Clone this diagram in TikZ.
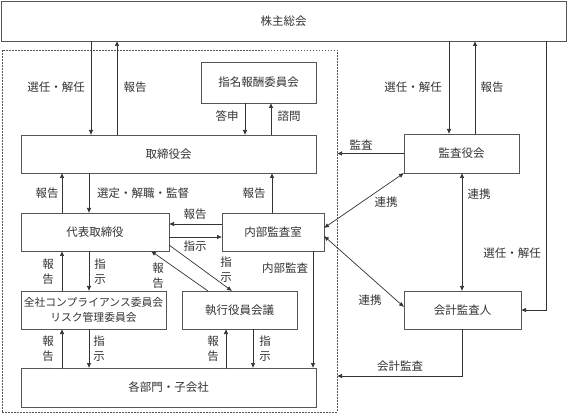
\documentclass[tikz,border=0pt]{standalone}
\usepackage{fontspec}
\newfontfamily\jp{Noto Sans CJK JP}
\usetikzlibrary{arrows.meta}
\definecolor{ln}{HTML}{333333}
\definecolor{bd}{HTML}{555555}
\begin{document}
\begin{tikzpicture}[x=1pt,y=-1pt,
  box/.style={draw=bd, line width=0.7pt, fill=white, inner sep=0pt, outer sep=0pt,
    font=\jp\fontsize{11.5}{15}\selectfont, text=ln, align=center},
  grpbox/.style={draw=bd, line width=0.8pt, dash pattern=on 1.5pt off 1.5pt, inner sep=0pt, outer sep=0pt},
  lbl/.style={font=\jp\fontsize{11.5}{15}\selectfont, text=ln, inner sep=0pt, align=center},
  arr/.style={draw=ln, line width=0.7pt, -{Latex[length=5pt,width=4.5pt]}},
  arrtwo/.style={draw=ln, line width=0.7pt, {Latex[length=5pt,width=4.5pt]}-{Latex[length=5pt,width=4.5pt]}}]
\useasboundingbox (0,0) rectangle (568,414);

% group (dashed)
\node[grpbox, minimum width=335pt, minimum height=362pt] (grp) at (169.5,231) {};

% boxes
\node[box, minimum width=565pt, minimum height=40pt] (sh) at (283.5,21) {株主総会};
\node[box, minimum width=115pt, minimum height=41pt] (nom) at (258.5,82.5) {指名報酬委員会};
\node[box, minimum width=295pt, minimum height=38pt] (bod) at (168.5,154) {取締役会};
\node[box, minimum width=115pt, minimum height=39pt] (kan) at (461.5,153.5) {監査役会};
\node[box, minimum width=148pt, minimum height=38pt] (ceo) at (95,232) {代表取締役};
\node[box, minimum width=102pt, minimum height=38pt] (ia) at (273,232) {内部監査室};
\node[box, minimum width=145pt, minimum height=38pt, font=\jp\fontsize{10.8}{15}\selectfont] (comp) at (93.5,310) {全社コンプライアンス委員会\\リスク管理委員会};
\node[box, minimum width=115pt, minimum height=38pt] (exec) at (239.5,310) {執行役員会議};
\node[box, minimum width=295pt, minimum height=39pt] (div) at (168.5,387.5) {各部門・子会社};
\node[box, minimum width=117pt, minimum height=38pt] (aud) at (462.5,310) {会計監査人};

% column / row helpers
\coordinate (xA) at (91,0);
\coordinate (xB) at (117,0);
\coordinate (xC) at (245,0);
\coordinate (xD) at (271,0);
\coordinate (xE) at (449,0);
\coordinate (xF) at (475,0);
\coordinate (xG) at (546,0);
\coordinate (xH) at (462,0);
\coordinate (x1) at (62,0);
\coordinate (x2) at (89,0);
\coordinate (x3) at (272,0);
\coordinate (x4) at (313,0);
\coordinate (x5) at (226,0);
\coordinate (x6) at (253,0);
\coordinate (x7) at (232,0);
\coordinate (x8) at (208,0);
\coordinate (x9) at (151,0);
\coordinate (yA) at (0,224);
\coordinate (yB) at (0,237);
\coordinate (yC) at (0,376);

% shareholders <-> board
\draw[arr] (sh.south -| xA) -- (bod.north -| xA);
\draw[arr] (bod.north -| xB) -- (sh.south -| xB);
\node[lbl] (l1) at (56,87) {選任・解任};
\node[lbl] (l2) at (135,87) {報告};

% nomination committee
\draw[arr] (nom.south -| xC) -- (bod.north -| xC);
\draw[arr] (bod.north -| xD) -- (nom.south -| xD);
\node[lbl] (l3) at (227,116) {答申};
\node[lbl] (l4) at (289,116) {諮問};

% shareholders <-> audit board
\draw[arr] (sh.south -| xE) -- (kan.north -| xE);
\draw[arr] (kan.north -| xF) -- (sh.south -| xF);
\node[lbl] (l5) at (413,87) {選任・解任};
\node[lbl] (l6) at (492,87) {報告};

% shareholders -> accounting auditor
\draw[arr] (sh.south -| xG) |- (aud.east);
\node[lbl] (l7) at (512,253) {選任・解任};

% audit board -> group
\draw[arr] (kan.west) -- (grp.east |- kan.west);
\node[lbl] (l8) at (361,145) {監査};

% audit board <-> accounting auditor
\draw[arrtwo] (kan.south -| xH) -- (aud.north -| xH);
\node[lbl] (l9) at (479,194) {連携};

% internal audit <-> audit board / accounting auditor
\draw[arrtwo] ([yshift=4pt]ia.east) -- (kan.south west);
\node[lbl] (l10) at (386,202) {連携};
\draw[arrtwo] ([yshift=-4pt]ia.east) -- ([yshift=3pt]aud.west);
\node[lbl] (l11) at (370,300) {連携};

% accounting auditor -> group
\draw[arr] (aud.south) |- (grp.east |- yC);
\node[lbl] (l12) at (400,366) {会計監査};

% board <-> CEO
\draw[arr] (ceo.north -| x1) -- (bod.south -| x1);
\draw[arr] (bod.south -| x2) -- (ceo.north -| x2);
\node[lbl] (l13) at (47,193) {報告};
\node[lbl] (l14) at (143,193) {選定・解職・監督};

% internal audit -> board
\draw[arr] (ia.north -| x3) -- (bod.south -| x3);
\node[lbl] (l15) at (254,193) {報告};

% internal audit <-> CEO
\draw[arr] (ia.west |- yA) -- (ceo.east |- yA);
\draw[arr] (ceo.east |- yB) -- (ia.west |- yB);
\node[lbl] (l16) at (195,214) {報告};
\node[lbl] (l17) at (195,246) {指示};

% internal audit -> divisions
\draw[arr] (ia.south -| x4) -- (div.north -| x4);
\node[lbl] (l18) at (285,268) {内部監査};

% CEO <-> compliance committee
\draw[arr] (comp.north -| x1) -- (ceo.south -| x1);
\draw[arr] (ceo.south -| x2) -- (comp.north -| x2);
\node[lbl] (l19) at (48,272) {報\\告};
\node[lbl] (l20) at (100,272) {指\\示};

% CEO <-> executive meeting
\draw[arr] (exec.north -| x8) -- (ceo.south -| x9);
\draw[arr] ([yshift=-13pt]ceo.east) -- (exec.north -| x7);
\node[lbl] (l21) at (158,276) {報\\告};
\node[lbl] (l22) at (226,270) {指\\示};

% compliance committee <-> divisions
\draw[arr] (div.north -| x1) -- (comp.south -| x1);
\draw[arr] (comp.south -| x2) -- (div.north -| x2);
\node[lbl] (l23) at (48,349) {報\\告};
\node[lbl] (l24) at (99,349) {指\\示};

% executive meeting <-> divisions
\draw[arr] (div.north -| x5) -- (exec.south -| x5);
\draw[arr] (exec.south -| x6) -- (div.north -| x6);
\node[lbl] (l25) at (213,349) {報\\告};
\node[lbl] (l26) at (265,349) {指\\示};
\end{tikzpicture}
\end{document}
